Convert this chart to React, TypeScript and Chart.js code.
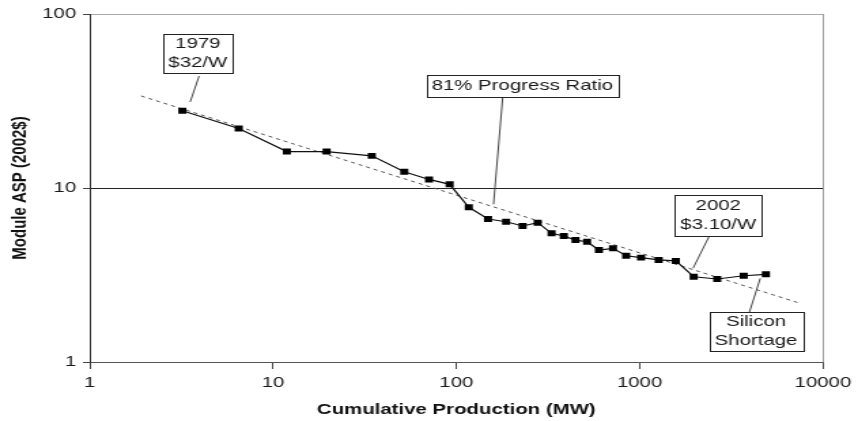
import React, { useEffect, useRef } from 'react';
import { Chart, registerables } from 'chart.js';

Chart.register(...registerables);

// ---- data ----
const cumulativeMW = [3.2, 6.5, 11.9, 19.6, 34.6, 52, 71, 92, 117, 149, 187, 230, 278, 331, 386, 447, 517, 600, 716, 845, 1019, 1271, 1577, 1974, 2653, 3699, 4891];
const moduleASP = [27.8, 22.0, 16.2, 16.2, 15.3, 12.4, 11.2, 10.5, 7.75, 6.63, 6.4, 6.05, 6.32, 5.49, 5.3, 5.02, 4.91, 4.4, 4.5, 4.08, 3.98, 3.86, 3.81, 3.09, 3.0, 3.13, 3.19];
const trendMW = [1.906, 7348];
const trendASP = [33.8, 2.19];
const xTickValues = [1, 10, 100, 1000, 10000];
const yTickValues = [1, 10, 100];
const xTitle = 'Cumulative Production (MW)';
const yTitle = 'Module ASP (2002$)';

// ---- annotations (text, box centre and leader in data space) ----
type Note = { lines: string[]; x: number; y: number; w: number; h: number; from: [number, number]; to: [number, number] };
const notes: Note[] = [
  { lines: ['1979', '$32/W'], x: 3.89, y: 59.3, w: 51, h: 39, from: [3.95, 44.0], to: [3.53, 31.2] },
  { lines: ['81% Progress Ratio'], x: 229.2, y: 38.7, w: 141, h: 22, from: [179.2, 33.3], to: [159.6, 8.06] },
  { lines: ['2002', '$3.10/W'], x: 2687, y: 6.97, w: 64, h: 41, from: [2391, 5.25], to: [1958, 3.456] },
  { lines: ['Silicon', 'Shortage'], x: 4320, y: 1.503, w: 69, h: 39, from: [3972, 1.93], to: [4557, 3.027] },
];

const FONT = '"Liberation Sans", Arial, Helvetica, sans-serif';
const CANVAS_W = 631; // drawn narrower, then stretched to 858px like the reference
const CANVAS_H = 421;

const notePlugin = {
  id: 'notes',
  afterDatasetsDraw(chart: any) {
    const { ctx } = chart;
    const xs = chart.scales.x;
    const ys = chart.scales.y;
    ctx.save();
    notes.forEach((n) => {
      const fx = xs.getPixelForValue(n.from[0]);
      const fy = ys.getPixelForValue(n.from[1]);
      const tx = xs.getPixelForValue(n.to[0]);
      const ty = ys.getPixelForValue(n.to[1]);
      ctx.strokeStyle = '#444';
      ctx.lineWidth = 1;
      ctx.setLineDash([]);
      ctx.beginPath();
      ctx.moveTo(fx, fy);
      ctx.lineTo(tx, ty);
      ctx.stroke();

      const cx = xs.getPixelForValue(n.x);
      const cy = ys.getPixelForValue(n.y);
      const left = Math.round(cx - n.w / 2) + 0.5;
      const top = Math.round(cy - n.h / 2) + 0.5;
      ctx.fillStyle = '#ffffff';
      ctx.fillRect(left, top, n.w, n.h);
      ctx.strokeStyle = '#222';
      ctx.strokeRect(left, top, n.w, n.h);

      ctx.fillStyle = '#1a1a1a';
      ctx.font = `15px ${FONT}`;
      ctx.textAlign = 'center';
      ctx.textBaseline = 'middle';
      const lh = 18.5;
      const start = cy - ((n.lines.length - 1) * lh) / 2;
      n.lines.forEach((t, i) => ctx.fillText(t, cx, start + i * lh));
    });
    ctx.restore();
  },
};

export default function App() {
  const ref = useRef<HTMLCanvasElement | null>(null);

  useEffect(() => {
    document.body.style.margin = '0';
    const canvas = ref.current;
    if (!canvas) return;
    const chart = new Chart(canvas, {
      type: 'line',
      data: {
        datasets: [
          {
            label: 'Module ASP',
            data: cumulativeMW.map((x, i) => ({ x, y: moduleASP[i] })),
            borderColor: '#111',
            borderWidth: 1.2,
            backgroundColor: '#000',
            pointStyle: 'rect',
            pointRadius: 4.2,
            pointBorderWidth: 0,
            pointBackgroundColor: '#000',
            tension: 0,
            fill: false,
          },
          {
            label: '81% Progress Ratio',
            data: trendMW.map((x, i) => ({ x, y: trendASP[i] })),
            borderColor: '#555',
            borderWidth: 1,
            borderDash: [3, 3],
            pointRadius: 0,
            fill: false,
          },
        ],
      },
      options: {
        animation: false,
        responsive: false,
        devicePixelRatio: 1,
        layout: { padding: { left: 0, right: 23, top: 14, bottom: 0 } },
        plugins: {
          legend: { display: false },
          tooltip: { enabled: false },
        },
        scales: {
          x: {
            type: 'logarithmic',
            min: 1,
            max: 10000,
            afterBuildTicks: (s: any) => {
              s.ticks = xTickValues.map((v) => ({ value: v }));
            },
            afterFit: (s: any) => {
              s.height = 59;
            },
            ticks: {
              callback: (v: any) => String(v),
              font: { family: FONT, size: 15 },
              color: '#1a1a1a',
              padding: 5,
              maxRotation: 0,
              autoSkip: false,
            },
            grid: {
              color: (c: any) => (c.tick && c.tick.value === 10000 ? '#999' : 'rgba(0,0,0,0)'),
              tickColor: '#444',
              tickLength: 7,
              lineWidth: 1,
            },
            border: { display: true, color: '#555', width: 1 },
            title: {
              display: true,
              text: xTitle,
              font: { family: FONT, size: 15, weight: 'bold' },
              color: '#111',
              padding: { top: 2, bottom: 2 },
            },
          },
          y: {
            type: 'logarithmic',
            min: 1,
            max: 100,
            afterBuildTicks: (s: any) => {
              s.ticks = yTickValues.map((v) => ({ value: v }));
            },
            afterFit: (s: any) => {
              s.width = 66;
            },
            ticks: {
              callback: (v: any) => String(v),
              font: { family: FONT, size: 15 },
              color: '#1a1a1a',
              padding: 5,
              autoSkip: false,
            },
            grid: {
              color: (c: any) => {
                const v = c.tick && c.tick.value;
                if (v === 10) return '#222';
                if (v === 100) return '#aaa';
                return 'rgba(0,0,0,0)';
              },
              tickColor: '#444',
              tickLength: 5,
              lineWidth: 1,
            },
            border: { display: true, color: '#333', width: 1 },
            title: {
              display: true,
              text: yTitle,
              font: { family: FONT, size: 15, weight: 'bold' },
              color: '#111',
              padding: { top: 5.5, bottom: 2 },
            },
          },
        },
      },
      plugins: [notePlugin],
    } as any);
    return () => chart.destroy();
  }, []);

  return (
    <canvas
      ref={ref}
      width={CANVAS_W}
      height={CANVAS_H}
      style={{ display: 'block', width: '858px', height: '421px' }}
    />
  );
}
